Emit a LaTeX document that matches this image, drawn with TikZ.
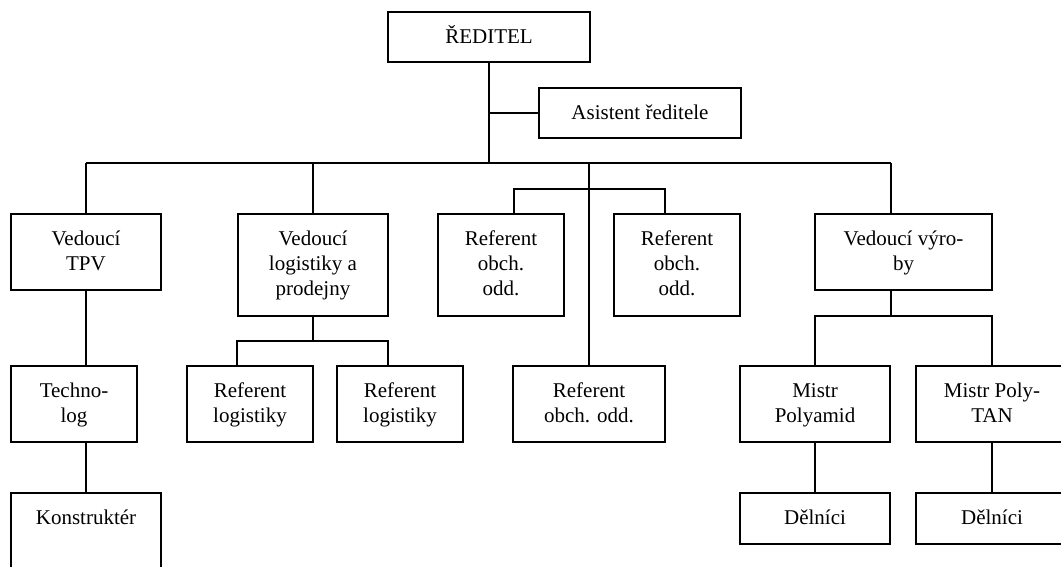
\documentclass[tikz,border=0pt]{standalone}
\usepackage{fontspec}
\setmainfont{Liberation Serif}
\begin{document}
\begin{tikzpicture}[x=1pt,y=-1pt,
  box/.style={draw=black, line width=1.2pt, rectangle, inner sep=0pt, outer sep=0pt},
  txt/.style={inner sep=0pt, outer sep=0pt, align=center, anchor=base, font=\fontsize{21}{25}\selectfont},
  conn/.style={draw=black, line width=1.2pt}]
\useasboundingbox (0,0) rectangle (1061,566);
\clip (0,0) rectangle (1061,566);
% boxes
\node[box, minimum width=202, minimum height=50] (dir) at (489,37) {};
\node[box, minimum width=202, minimum height=50] (asist) at (640,113) {};
\node[box, minimum width=150, minimum height=76] (tpv) at (86,252) {};
\node[box, minimum width=150, minimum height=102] (log) at (313,265) {};
\node[box, minimum width=126, minimum height=102] (ref1) at (501,265) {};
\node[box, minimum width=126, minimum height=102] (ref2) at (677,265) {};
\node[box, minimum width=177, minimum height=76] (vyr) at (903.5,252) {};
\node[box, minimum width=126, minimum height=76] (tech) at (74,404) {};
\node[box, minimum width=150, minimum height=140] (kon) at (86,563) {};
\node[box, minimum width=126, minimum height=76] (rl1) at (250,404) {};
\node[box, minimum width=126, minimum height=76] (rl2) at (400,404) {};
\node[box, minimum width=152, minimum height=76] (ref3) at (589,404) {};
\node[box, minimum width=150, minimum height=76] (mp1) at (815,404) {};
\node[box, minimum width=152, minimum height=76] (mp2) at (992,404) {};
\node[box, minimum width=150, minimum height=51] (d1) at (815,518.5) {};
\node[box, minimum width=152, minimum height=51] (d2) at (992,518.5) {};
% texts (base anchor = baseline of the last line)
\node[txt] (dirT) at ([yshift=-31pt]dir.north) {ŘEDITEL};
\node[txt] (asistT) at ([yshift=-31pt]asist.north) {Asistent ředitele};
\node[txt] (tpvT) at ([yshift=-56pt]tpv.north) {Vedoucí\\TPV};
\node[txt] (logT) at ([yshift=-81pt]log.north) {Vedoucí\\logistiky a\\prodejny};
\node[txt] (ref1T) at ([yshift=-81pt]ref1.north) {Referent\\obch.\\odd.};
\node[txt] (ref2T) at ([yshift=-81pt]ref2.north) {Referent\\obch.\\odd.};
\node[txt] (vyrT) at ([yshift=-56pt]vyr.north) {Vedoucí výro-\\by};
\node[txt] (techT) at ([yshift=-56pt]tech.north) {Techno-\\log};
\node[txt] (konT) at ([yshift=-31pt]kon.north) {Konstruktér};
\node[txt] (rl1T) at ([yshift=-56pt]rl1.north) {Referent\\logistiky};
\node[txt] (rl2T) at ([yshift=-56pt]rl2.north) {Referent\\logistiky};
\node[txt] (ref3T) at ([yshift=-56pt]ref3.north) {Referent\\obch. odd.};
\node[txt] (mp1T) at ([yshift=-56pt]mp1.north) {Mistr\\Polyamid};
\node[txt] (mp2T) at ([yshift=-56pt]mp2.north) {Mistr Poly-\\TAN};
\node[txt] (d1T) at ([yshift=-31pt]d1.north) {Dělníci};
\node[txt] (d2T) at ([yshift=-31pt]d2.north) {Dělníci};
% junction coordinates
\coordinate (barL) at (86,163);
\coordinate (barR) at (891,163);
\coordinate (cmid) at (589,163);
\coordinate (k1) at (514,189);
\coordinate (k2) at (665,189);
\coordinate (s1) at (237,341);
\coordinate (s2) at (388,341);
\coordinate (v1) at (815,316);
\coordinate (v2) at (992,316);
% connectors
\draw[conn] (dir.south) -- (dir.south |- barL);
\draw[conn] (asist.west) -- (asist.west -| dir.south);
\draw[conn] (barL) -- (barR);
\draw[conn] (barL) -- (tpv.north);
\draw[conn] (log.north |- barL) -- (log.north);
\draw[conn] (barR) -- (barR |- vyr.north);
\draw[conn] (cmid) -- (ref3.north);
\draw[conn] (ref1.north -| k1) -- (k1) -- (k2) -- (ref2.north -| k2);
\draw[conn] (log.south) -- (log.south |- s1);
\draw[conn] (rl1.north -| s1) -- (s1) -- (s2) -- (rl2.north -| s2);
\draw[conn] (vyr.south -| barR) -- (barR |- v1);
\draw[conn] (mp1.north) -- (v1) -- (v2) -- (mp2.north);
\draw[conn] (mp1.south) -- (d1.north);
\draw[conn] (mp2.south) -- (d2.north);
\draw[conn] (tpv.south) -- (tech.north -| tpv.south);
\draw[conn] (tech.south -| tpv.south) -- (kon.north -| tpv.south);
\end{tikzpicture}
\end{document}
